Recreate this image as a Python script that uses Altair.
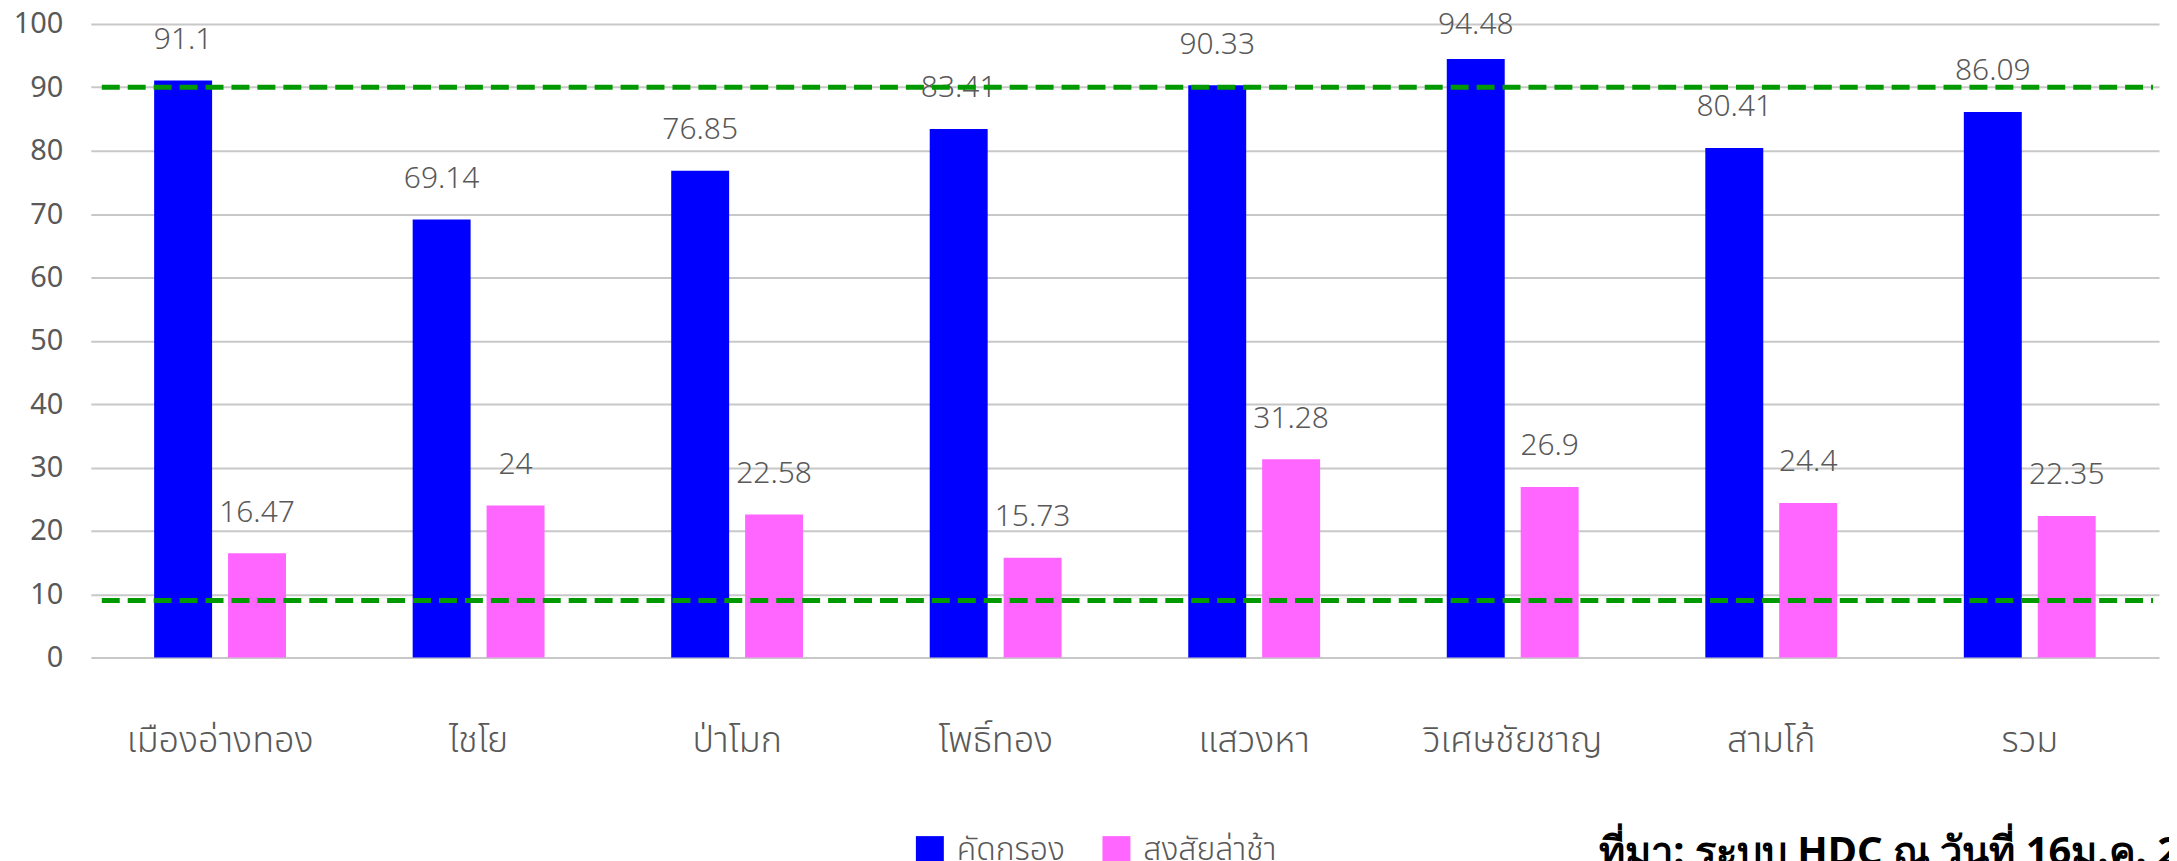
import altair as alt
import pandas as pd

categories = ["เมืองอ่างทอง", "ไชโย", "ป่าโมก", "โพธิ์ทอง", "แสวงหา", "วิเศษชัยชาญ", "สามโก้", "รวม"]
series = ["คัดกรอง", "สงสัยล่าช้า"]
screened = [91.1, 69.14, 76.85, 83.41, 90.33, 94.48, 80.41, 86.09]
delayed = [16.47, 24, 22.58, 15.73, 31.28, 26.9, 24.4, 22.35]
targets = [90, 9]
source_text = ["ที่มา: ระบบ HDC ณ วันที่ 16ม.ค. 2563"]
colors = ["#0000FF", "#FF66FF"]

rows = []
for i, c in enumerate(categories):
    for s, vals in zip(series, [screened, delayed]):
        rows.append({"cat": c, "series": s, "value": vals[i], "label": f"{vals[i]:g}"})
df = pd.DataFrame(rows)

W, H = 2073, 635
FONT = "Noto Sans"
THAI = "Noto Sans Thai, Noto Sans"
GRAY = "#595959"

x_enc = alt.X("cat:N", sort=categories, title=None,
              scale=alt.Scale(paddingInner=0.49, paddingOuter=0.245),
              axis=alt.Axis(labelAngle=0, labelFontSize=36, labelColor=GRAY, labelFont=THAI,
                            labelFontWeight=300, labelLimit=400,
                            labelPadding=66, domain=False, ticks=False, grid=False))
xo_enc = alt.XOffset("series:N", sort=series, scale=alt.Scale(paddingInner=0.216))
y_scale = alt.Scale(domain=[0, 100], nice=False)

base = alt.Chart(df)

bars = base.mark_bar().encode(
    x=x_enc,
    xOffset=xo_enc,
    y=alt.Y("value:Q", scale=y_scale, title=None,
            axis=alt.Axis(values=list(range(0, 101, 10)), labelFontSize=29, labelColor=GRAY,
                          labelFont=FONT, labelPadding=28, domain=False, ticks=False,
                          grid=True, gridColor="#C8C8C8", gridWidth=2)),
    color=alt.Color("series:N", sort=series, scale=alt.Scale(domain=series, range=colors),
                    legend=alt.Legend(title=None, orient="none", legendX=825, legendY=812,
                                      direction="horizontal", symbolType="square",
                                      symbolSize=784, symbolStrokeWidth=0, labelFontSize=32,
                                      labelColor=GRAY, labelFont=THAI, labelFontWeight=300,
                                      labelOffset=11, columnPadding=35, labelLimit=400)),
)

labels = base.transform_calculate(
    lpos="min(datum.value + 5, 98.4)"
).mark_text(fontSize=30, color=GRAY, font=FONT, baseline="alphabetic", fontWeight=300).encode(
    x=alt.X("cat:N", sort=categories),
    xOffset=alt.XOffset("series:N", sort=series),
    y=alt.Y("lpos:Q", scale=y_scale),
    text="label:N",
)

rules = alt.Chart(pd.DataFrame({"t": targets})).mark_rule(
    color="#009900", strokeWidth=5, strokeDash=[18, 8]
).encode(
    y=alt.Y("t:Q", scale=y_scale),
    x=alt.value(11),
    x2=alt.value(W - 6),
)

source = alt.Chart(pd.DataFrame({"s": source_text})).mark_text(
    fontSize=40, fontWeight="bold", color="#000000", font=FONT, align="left", baseline="alphabetic"
).encode(
    text="s:N",
    x=alt.value(1512),
    y=alt.value(843),
)

chart = alt.layer(bars, labels, rules, source).properties(
    width=W, height=H,
    autosize=alt.AutoSizeParams(type="none"),
    padding={"left": 83, "top": 15, "right": 10, "bottom": 240},
).configure_view(stroke=None)

chart.save("out.html", embed_options={"renderer": "svg", "actions": False})
